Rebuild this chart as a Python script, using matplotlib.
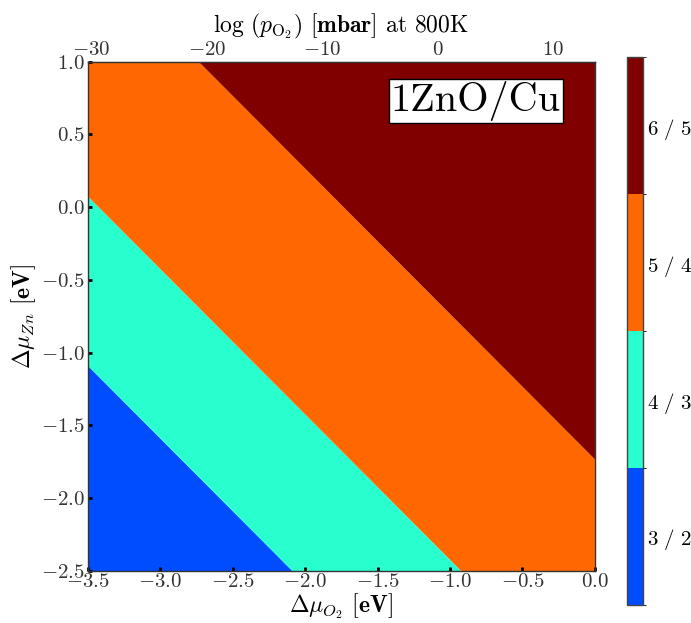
import numpy as np
import matplotlib
matplotlib.use("Agg")
import matplotlib.pyplot as plt
from matplotlib.colors import ListedColormap, BoundaryNorm
import matplotlib.colorbar as mcolorbar
from matplotlib.ticker import FuncFormatter

plt.rcParams['mathtext.fontset'] = 'cm'
plt.rcParams['font.family'] = 'serif'
plt.rcParams['font.serif'] = ['cmr10', 'DejaVu Serif']
plt.rcParams['axes.formatter.use_mathtext'] = True

# Phase boundaries: lines of constant (dmu_O2 + dmu_Zn)
boundary_sums = [-4.59, -3.425, -1.735]
phase_labels = ["3 / 2", "4 / 3", "5 / 4", "6 / 5"]
phase_colors = ["#004cff", "#29ffce", "#ff6800", "#800000"]

x_range = [-3.5, 0.0]
y_range = [-2.5, 1.0]
x_ticks = [-3.5, -3.0, -2.5, -2.0, -1.5, -1.0, -0.5, 0.0]
y_ticks = [-2.5, -2.0, -1.5, -1.0, -0.5, 0.0, 0.5, 1.0]
top_ticks = [-30, -20, -10, 0, 10]
# log(p) conversion at 800K
mu_ref = -1.086
slope_per_decade = 0.0796

fmt1 = FuncFormatter(lambda v, p: r'$%.1f$' % v)
fmt0 = FuncFormatter(lambda v, p: r'$%d$' % int(round(v)))

fig = plt.figure(figsize=(6.91, 6.23), dpi=100)
ax = fig.add_axes([0.127, 0.084, 0.734, 0.817])

x = np.linspace(x_range[0], x_range[1], 400)
edges = [-100.0] + boundary_sums + [100.0]
for i, col in enumerate(phase_colors):
    ax.fill_between(x, edges[i] - x, edges[i + 1] - x, color=col, linewidth=0)

ax.set_xlim(*x_range)
ax.set_ylim(*y_range)
ax.set_xticks(x_ticks)
ax.set_yticks(y_ticks)
ax.xaxis.set_major_formatter(fmt1)
ax.yaxis.set_major_formatter(fmt1)
ax.tick_params(direction='in', length=3, width=2, labelsize=15, colors='black',
               labelcolor='#333333', top=False, right=False, pad=2)
for s in ax.spines.values():
    s.set_color('#333333')
    s.set_linewidth(1.0)

ax.set_xlabel(r'$\Delta\mu_{O_2}$ $\mathbf{[eV]}$', fontsize=17, labelpad=0)
ax.set_ylabel(r'$\Delta\mu_{Zn}$ $\mathbf{[eV]}$', fontsize=17, labelpad=2)

sec = ax.secondary_xaxis('top',
                         functions=(lambda v: (v - mu_ref) / slope_per_decade,
                                    lambda p: p * slope_per_decade + mu_ref))
sec.set_xticks(top_ticks)
sec.xaxis.set_major_formatter(fmt0)
sec.tick_params(direction='in', length=3, width=2, labelsize=15, labelcolor='#333333', pad=2)
sec.set_xlabel(r'$\log\,(p_{\mathrm{O}_2})$ $\mathbf{[mbar]}$ at 800K', fontsize=17, labelpad=6)

ax.text(0.933, 0.962, '1ZnO/Cu', transform=ax.transAxes, ha='right', va='top',
        fontsize=29, color='black',
        bbox=dict(facecolor='white', edgecolor='black', boxstyle='square,pad=0.05', linewidth=1))

cax = fig.add_axes([0.908, 0.029, 0.023, 0.879])
cmap = ListedColormap(phase_colors)
norm = BoundaryNorm(np.arange(len(phase_colors) + 1), cmap.N)
cb = mcolorbar.ColorbarBase(cax, cmap=cmap, norm=norm,
                            ticks=np.arange(len(phase_colors)) + 0.5)
cb.set_ticklabels([r'$\mathbf{' + lab.replace(' ', r'\ ') + '}$' for lab in phase_labels])
cax.tick_params(length=0, labelsize=15, pad=3)
cb.outline.set_edgecolor('#444444')
cb.outline.set_linewidth(1.0)

fig.savefig('out.png', dpi=100)
